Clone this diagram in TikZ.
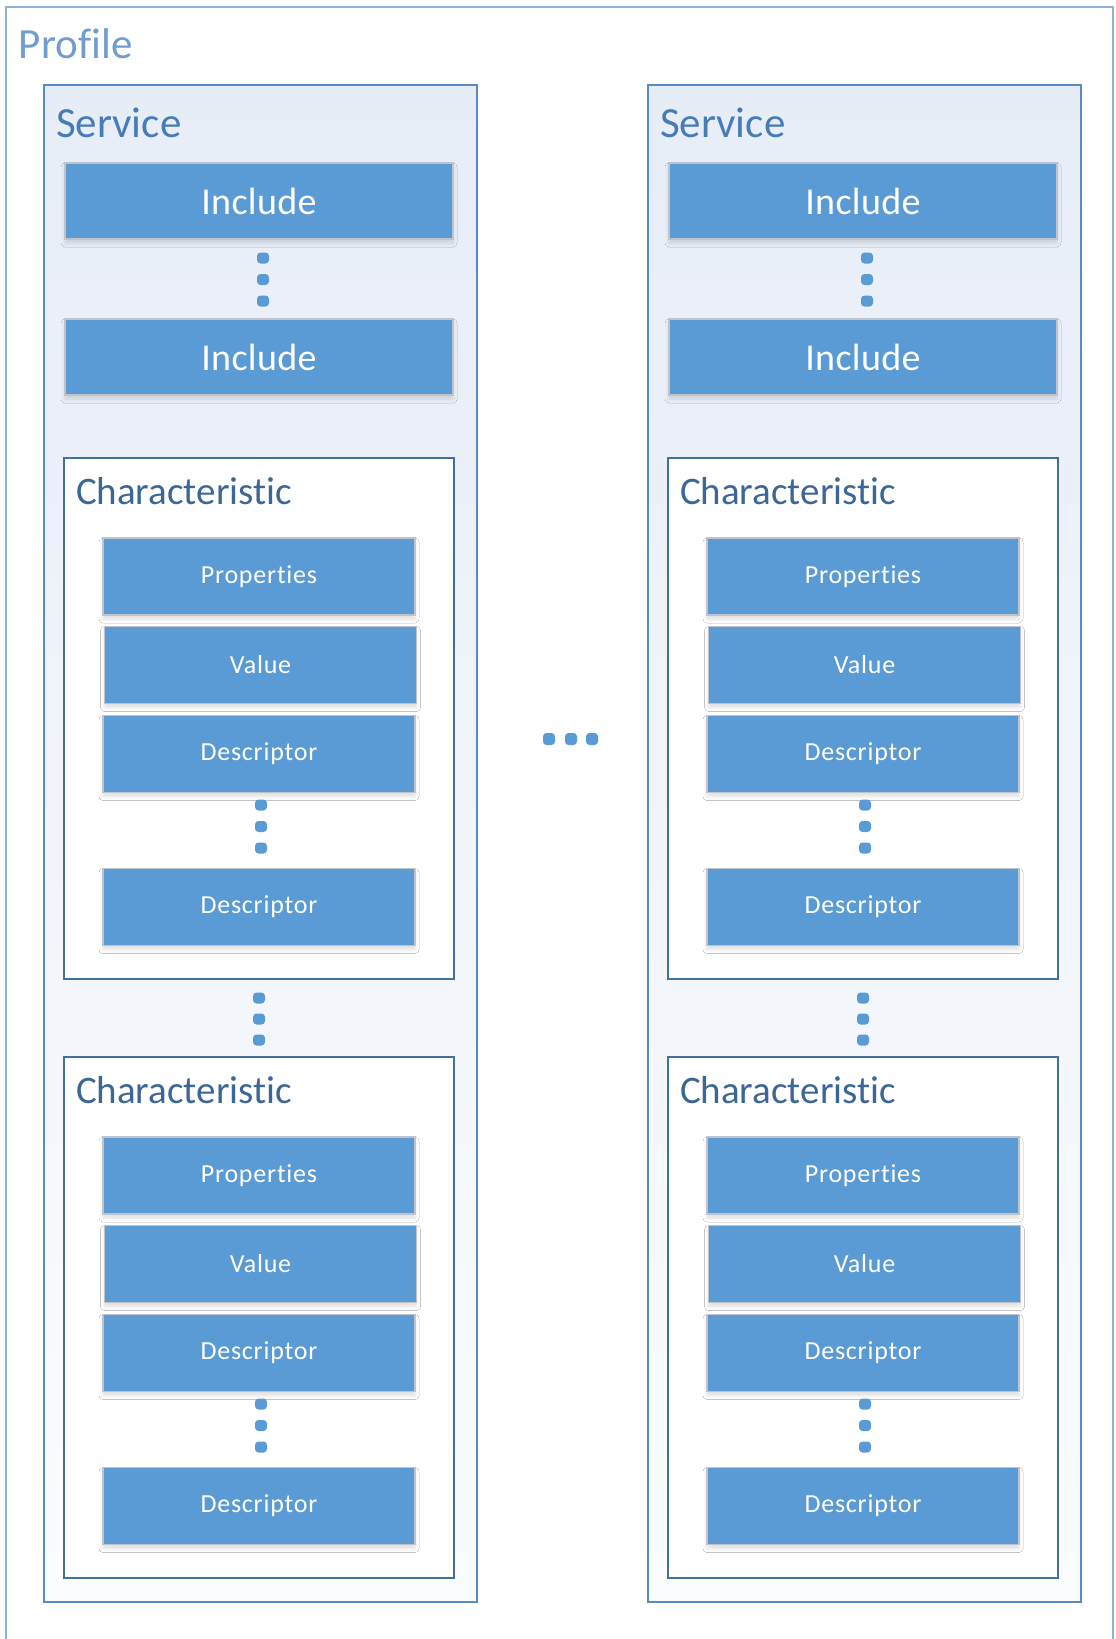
\documentclass[tikz,border=0pt]{standalone}
\usepackage{fontspec}
\setmainfont{Carlito}[Ligatures={NoCommon}]
\usetikzlibrary{shadows.blur}

\definecolor{profileline}{RGB}{143,178,218}
\definecolor{profiletext}{RGB}{114,156,206}
\definecolor{servline}{RGB}{88,138,196}
\definecolor{servtext}{RGB}{70,124,184}
\definecolor{servtop}{RGB}{231,237,247}
\definecolor{servbottom}{RGB}{251,252,254}
\definecolor{charline}{RGB}{66,112,158}
\definecolor{chartext}{RGB}{60,102,150}
\definecolor{boxblue}{RGB}{91,155,213}
\definecolor{boxedge}{RGB}{192,196,202}

\tikzset{
  frametitle/.style={anchor=base west, inner sep=0pt, outer sep=0pt},
  servframe/.style={draw=servline, line width=2pt, top color=servtop, bottom color=servbottom, inner sep=0pt},
  charframe/.style={draw=charline, line width=2pt, fill=white, inner sep=0pt},
  bluebox/.style={blur shadow={shadow xshift=0pt, shadow yshift=-4pt, shadow blur radius=4pt,
      shadow opacity=13},
    draw=boxedge, line width=1.6pt, fill=boxblue, text=white, inner sep=0pt,
    font=\fontsize{26}{30}\selectfont\addfontfeatures{LetterSpace=3}},
  incbox/.style={bluebox, minimum width=388, minimum height=76,
    font=\fontsize{38}{44}\selectfont\addfontfeatures{LetterSpace=1}},
  itembox/.style={bluebox, minimum width=312, minimum height=77},
  vdot/.style={fill=boxblue, rounded corners=3.5pt, minimum width=12, minimum height=11, inner sep=0pt},
  hdot/.style={fill=boxblue, rounded corners=3.5pt, minimum width=12, minimum height=12, inner sep=0pt},
}

\begin{document}
\begin{tikzpicture}[x=1pt, y=-1pt]
\useasboundingbox (0,0) rectangle (1116,1639);
\fill[white] (0,0) rectangle (1116,1639);

% outer profile frame, open at the bottom edge of the page
\begin{scope}
  \clip (0,0) rectangle (1116,1639);
  \draw[profileline, line width=2pt] (6,1660) -- (6,7) -- (1113,7) -- (1113,1660);
\end{scope}
\node[frametitle, text=profiletext, font=\fontsize{43}{50}\selectfont] (profile) at (19,58) {Profile};

% the two services
\foreach \c/\dx in {L/0, R/604} {
  \begin{scope}[xshift=\dx]
    \node[servframe, minimum width=433, minimum height=1517] (serv\c) at (260.5,843.5) {};
    \node[frametitle, text=servtext, font=\fontsize{43}{50}\selectfont] (servtitle\c) at (56,137) {Service};

    \node[incbox] (incA\c) at (259,201) {Include};
    \node[incbox] (incB\c) at (259,357) {Include};
    \foreach \i/\yy in {1/258, 2/279.5, 3/301}
      \node[vdot] (incdot\c\i) at (263,\yy) {};

    \foreach \i/\yy in {1/998, 2/1019, 3/1040}
      \node[vdot] (chardot\c\i) at (259,\yy) {};

    % two characteristics per service
    \foreach \k/\dy in {1/0, 2/599} {
      \begin{scope}[yshift=-\dy]
        \node[charframe, minimum width=390, minimum height=521] (char\c\k) at (259,718.5) {};
        \node[frametitle, text=chartext, font=\fontsize{39}{46}\selectfont] (chartitle\c\k) at (76,504) {Characteristic};
        \node[itembox] (prop\c\k) at (259,576.5) {Properties};
        \node[itembox] (val\c\k) at (260.5,665) {Value};
        \node[itembox] (descA\c\k) at (259,754) {Descriptor};
        \foreach \i/\yy in {1/805, 2/826.5, 3/848}
          \node[vdot] (descdot\c\k\i) at (261,\yy) {};
        \node[itembox] (descB\c\k) at (259,907) {Descriptor};
      \end{scope}
    }
  \end{scope}
}

% ellipsis between the services
\foreach \i/\xx in {1/549, 2/571, 3/592}
  \node[hdot] (servdot\i) at (\xx,739) {};
\end{tikzpicture}
\end{document}
